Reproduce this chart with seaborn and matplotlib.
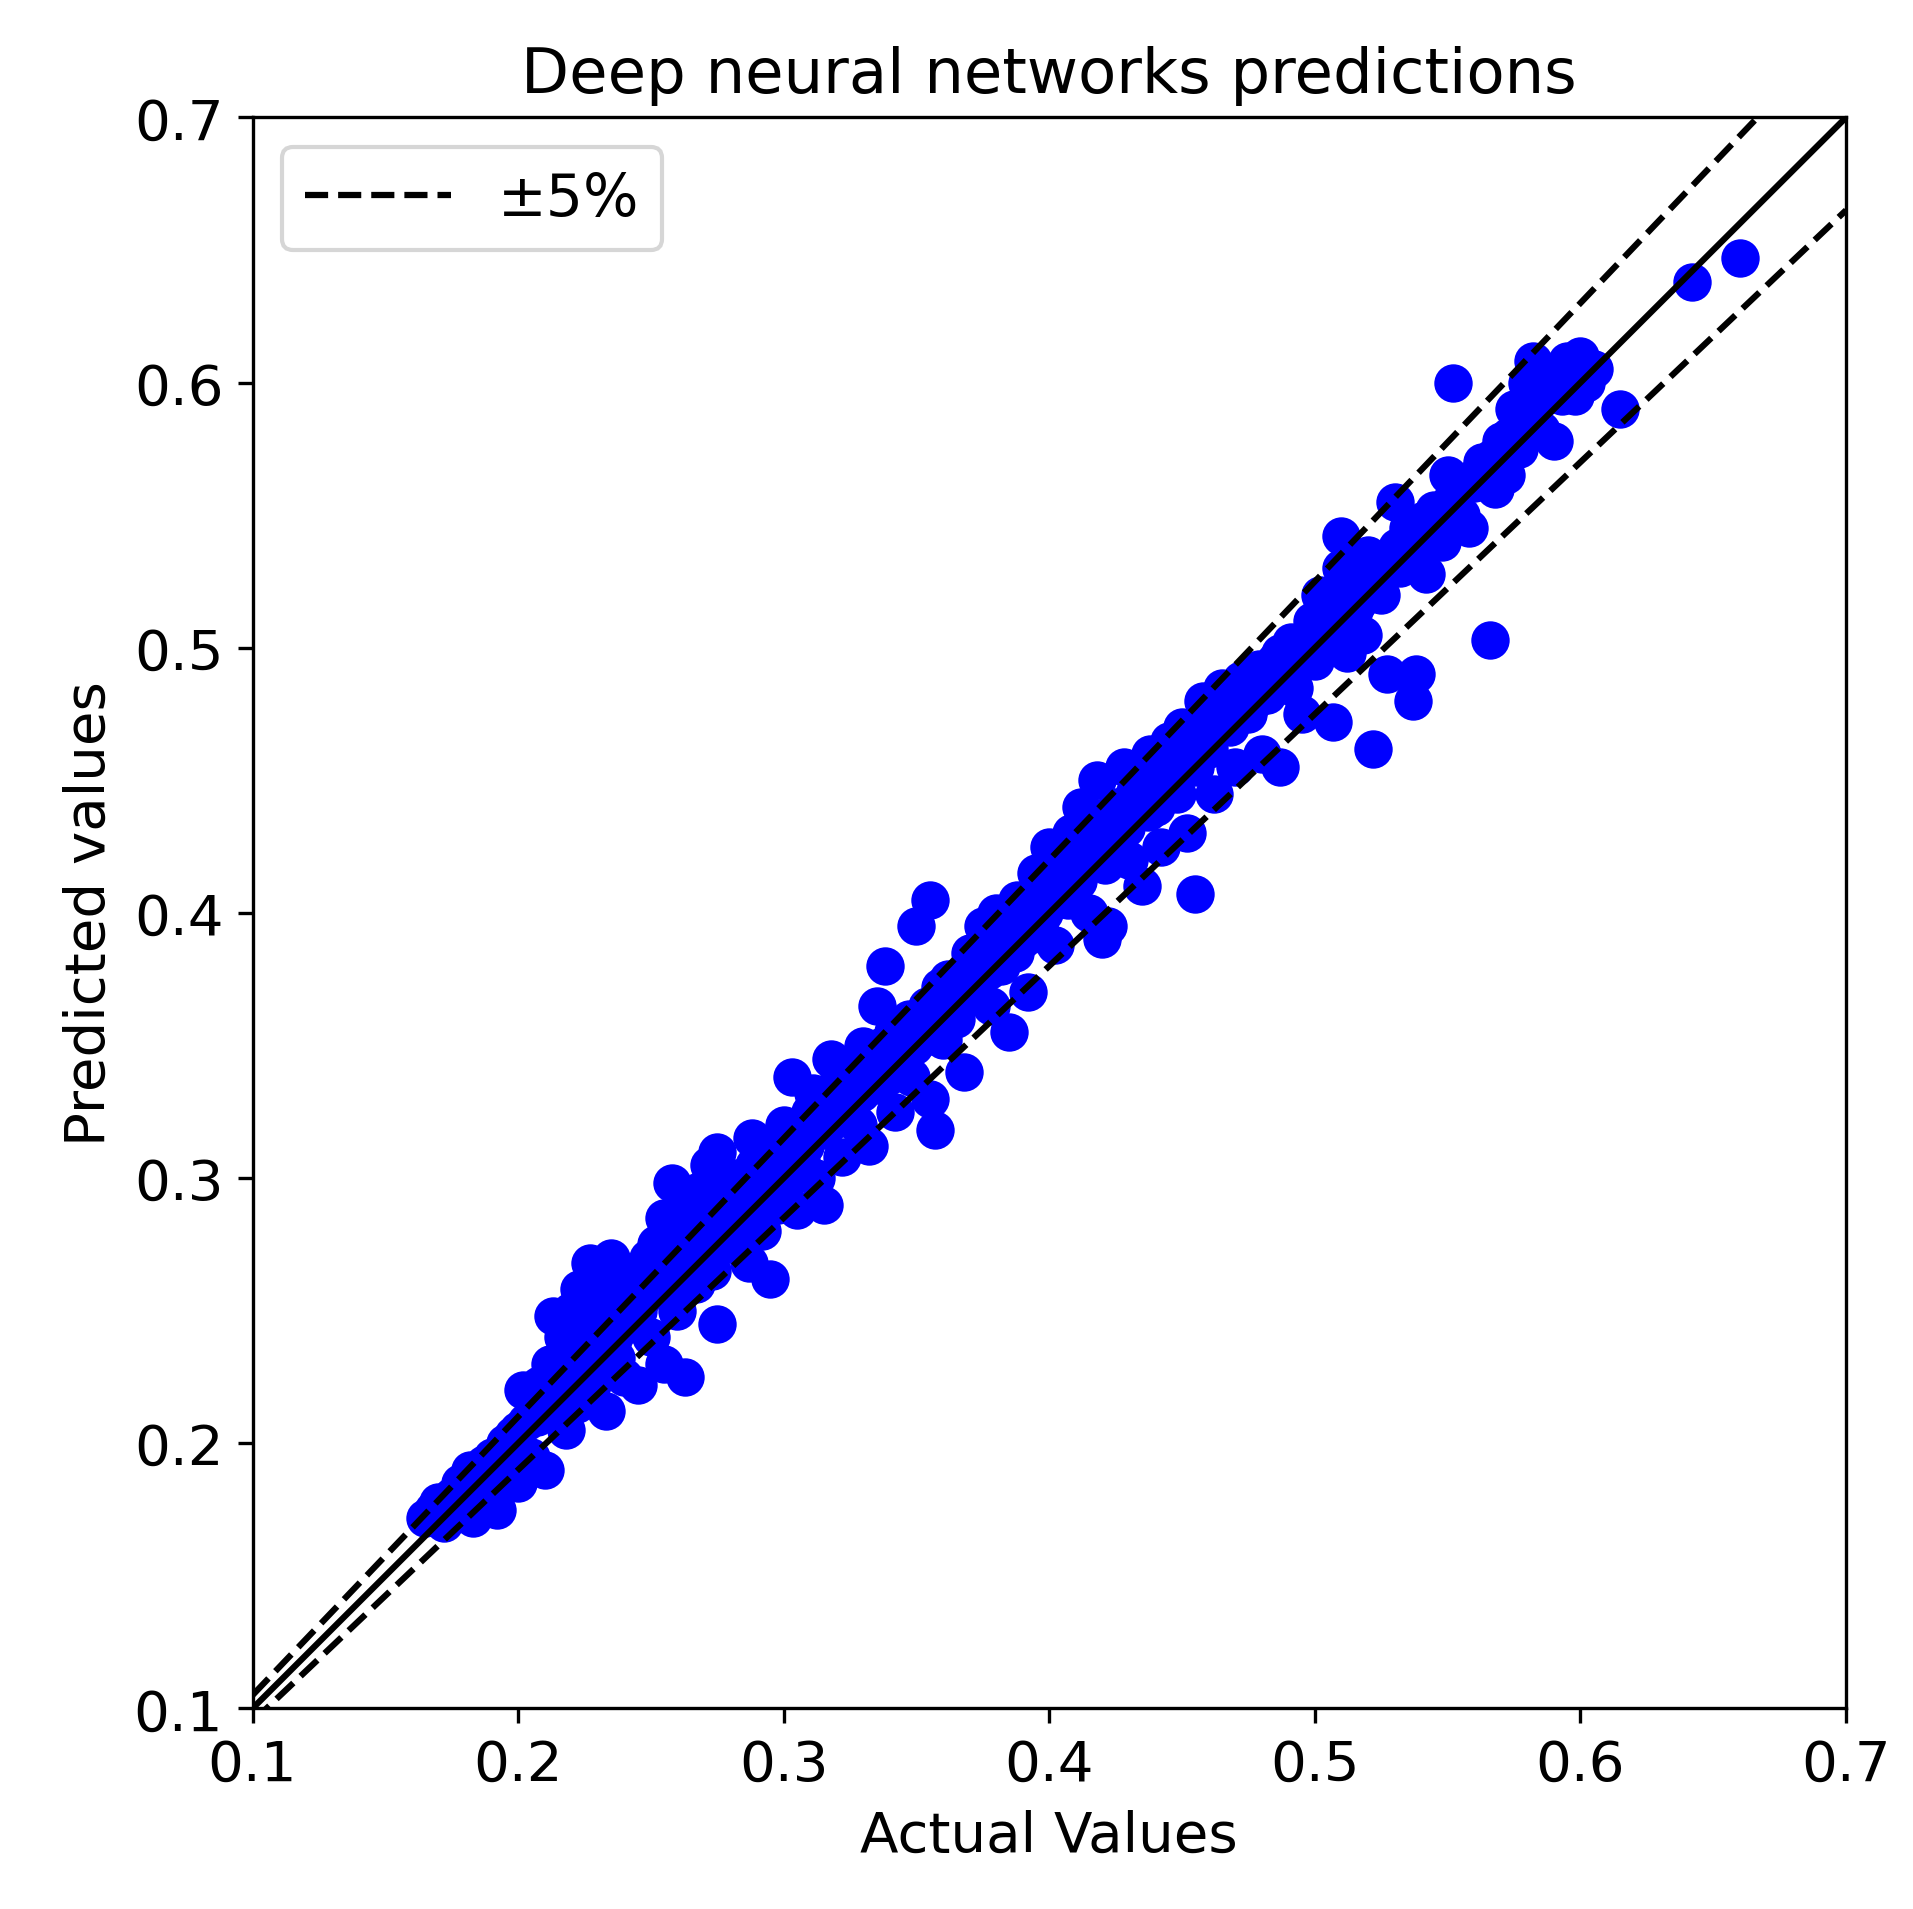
import numpy as np
import matplotlib
matplotlib.use('Agg')
import matplotlib.pyplot as plt
import seaborn as sns

pairs = [
(0.165,0.172),(0.168,0.175),(0.172,0.170),(0.175,0.180),(0.178,0.185),(0.180,0.176),(0.183,0.172),
(0.185,0.188),(0.188,0.180),(0.190,0.195),(0.192,0.175),(0.195,0.200),(0.197,0.190),(0.200,0.205),
(0.200,0.185),(0.202,0.220),(0.205,0.195),(0.207,0.210),(0.210,0.215),(0.210,0.190),(0.212,0.230),
(0.213,0.248),(0.215,0.225),(0.217,0.240),(0.218,0.205),(0.220,0.250),(0.220,0.235),(0.222,0.215),
(0.223,0.258),(0.225,0.245),(0.225,0.228),(0.227,0.268),(0.228,0.222),(0.230,0.255),(0.230,0.238),
(0.232,0.262),(0.233,0.212),(0.235,0.270),(0.235,0.248),(0.237,0.232),(0.238,0.255),(0.240,0.262),
(0.240,0.225),(0.242,0.245),(0.245,0.250),(0.245,0.222),(0.248,0.265),(0.250,0.240),(0.252,0.275),
(0.253,0.258),(0.255,0.285),(0.255,0.230),(0.258,0.298),(0.260,0.268),(0.260,0.250),(0.262,0.290),
(0.263,0.225),(0.265,0.275),(0.267,0.260),(0.268,0.295),(0.270,0.280),(0.272,0.305),(0.273,0.265),
(0.275,0.310),(0.275,0.245),(0.278,0.290),(0.280,0.275),(0.282,0.300),(0.285,0.285),(0.287,0.268),
(0.288,0.315),(0.290,0.295),(0.292,0.280),(0.295,0.305),(0.295,0.262),(0.298,0.290),(0.300,0.320),
(0.302,0.300),(0.303,0.338),(0.305,0.288),(0.308,0.312),(0.310,0.325),(0.312,0.300),(0.315,0.318),
(0.315,0.290),(0.318,0.345),(0.320,0.330),(0.322,0.308),(0.325,0.338),(0.328,0.320),(0.330,0.350),
(0.332,0.312),(0.335,0.365),(0.335,0.335),(0.338,0.380),(0.340,0.345),(0.342,0.325),(0.345,0.355),
(0.348,0.338),(0.350,0.395),(0.352,0.360),(0.355,0.405),(0.355,0.330),(0.357,0.318),(0.358,0.368),
(0.360,0.352),(0.362,0.375),(0.365,0.360),(0.368,0.340),(0.370,0.385),(0.372,0.370),(0.375,0.395),
(0.378,0.365),(0.380,0.400),(0.382,0.380),(0.385,0.355),(0.388,0.405),(0.390,0.390),(0.392,0.370),
(0.395,0.415),(0.398,0.400),(0.400,0.425),(0.402,0.388),(0.405,0.410),(0.408,0.430),(0.410,0.415),
(0.412,0.440),(0.415,0.400),(0.418,0.450),(0.420,0.425),(0.420,0.390),(0.422,0.395),(0.425,0.440),
(0.428,0.455),(0.430,0.420),(0.432,0.445),(0.435,0.410),(0.438,0.460),(0.440,0.440),(0.442,0.425),
(0.445,0.465),(0.448,0.445),(0.450,0.470),(0.452,0.430),(0.455,0.407),(0.455,0.455),(0.458,0.480),
(0.460,0.462),(0.462,0.445),(0.465,0.485),(0.468,0.470),(0.470,0.455),(0.472,0.488),(0.475,0.475),
(0.478,0.490),(0.480,0.460),(0.482,0.482),(0.485,0.495),(0.487,0.455),(0.490,0.500),(0.492,0.485),
(0.495,0.475),(0.498,0.505),(0.500,0.495),(0.502,0.520),(0.505,0.510),(0.507,0.472),(0.510,0.530),
(0.510,0.542),(0.512,0.498),(0.515,0.515),(0.518,0.505),(0.520,0.535),(0.522,0.462),(0.525,0.520),
(0.527,0.490),(0.530,0.555),(0.532,0.530),(0.535,0.545),(0.537,0.480),(0.538,0.490),(0.540,0.535),
(0.542,0.528),(0.545,0.552),(0.548,0.540),(0.550,0.565),(0.552,0.600),(0.555,0.550),(0.558,0.545),
(0.560,0.562),(0.563,0.570),(0.566,0.503),(0.568,0.560),(0.570,0.578),(0.572,0.565),(0.575,0.590),
(0.577,0.575),(0.580,0.600),(0.582,0.608),(0.585,0.582),(0.587,0.595),(0.590,0.578),(0.592,0.602),
(0.595,0.608),(0.598,0.595),(0.600,0.610),(0.605,0.605),(0.615,0.590),(0.642,0.638),(0.660,0.647),
# dense core of the band
(0.170,0.178),(0.177,0.178),(0.182,0.190),(0.187,0.192),(0.193,0.188),(0.198,0.203),(0.203,0.208),
(0.208,0.222),(0.214,0.212),(0.216,0.232),(0.219,0.228),(0.221,0.242),(0.224,0.236),(0.226,0.252),
(0.229,0.245),(0.231,0.266),(0.234,0.258),(0.236,0.240),(0.239,0.250),(0.241,0.255),(0.244,0.260),
(0.247,0.255),(0.249,0.270),(0.251,0.262),(0.254,0.268),(0.257,0.278),(0.259,0.262),(0.261,0.280),
(0.264,0.272),(0.266,0.285),(0.269,0.272),(0.271,0.292),(0.274,0.282),(0.277,0.298),(0.279,0.288),
(0.281,0.292),(0.284,0.300),(0.286,0.292),(0.289,0.305),(0.291,0.300),(0.294,0.312),(0.297,0.302),
(0.299,0.310),(0.301,0.312),(0.304,0.318),(0.307,0.305),(0.309,0.318),(0.311,0.332),(0.314,0.325),
(0.317,0.330),(0.319,0.322),(0.321,0.338),(0.324,0.328),(0.327,0.340),(0.329,0.332),(0.331,0.342),
(0.334,0.340),(0.337,0.350),(0.339,0.338),(0.341,0.355),(0.344,0.345),(0.347,0.360),(0.349,0.350),
(0.351,0.352),(0.354,0.365),(0.356,0.355),(0.359,0.372),(0.361,0.362),(0.364,0.372),(0.367,0.368),
(0.369,0.378),(0.371,0.375),(0.374,0.382),(0.377,0.378),(0.379,0.390),(0.381,0.386),(0.384,0.392),
(0.387,0.385),(0.389,0.398),(0.391,0.395),(0.394,0.405),(0.397,0.392),(0.399,0.410),(0.401,0.405),
(0.404,0.418),(0.407,0.405),(0.409,0.420),(0.411,0.412),(0.414,0.425),(0.417,0.420),(0.419,0.432),
(0.421,0.418),(0.424,0.430),(0.427,0.440),(0.429,0.432),(0.431,0.438),(0.434,0.448),(0.437,0.438),
(0.439,0.452),(0.441,0.445),(0.444,0.455),(0.447,0.452),(0.449,0.460),(0.451,0.455),(0.454,0.468),
(0.457,0.462),(0.459,0.472),(0.461,0.468),(0.464,0.475),(0.467,0.480),(0.469,0.478),(0.471,0.482),
(0.474,0.485),(0.477,0.480),(0.479,0.492),(0.481,0.488),(0.484,0.490),(0.487,0.498),(0.489,0.490),
(0.491,0.502),(0.494,0.498),(0.497,0.500),(0.499,0.510),(0.503,0.505),(0.506,0.515),(0.509,0.512),
(0.513,0.522),(0.517,0.518),(0.521,0.525),(0.526,0.532),(0.531,0.538),(0.536,0.540),(0.541,0.548),
(0.546,0.548),(0.551,0.555),(0.556,0.562),(0.561,0.565),(0.567,0.572),(0.573,0.580),(0.578,0.585),
(0.583,0.592),(0.588,0.598),(0.593,0.595),(0.597,0.605),(0.602,0.600),
]
actual = [p[0] for p in pairs]
predicted = [p[1] for p in pairs]

sns.set_style('ticks')
plt.rcParams['font.family'] = ['DejaVu Sans']
plt.rcParams['text.color'] = 'black'
plt.rcParams['axes.labelcolor'] = 'black'
plt.rcParams['xtick.color'] = 'black'
plt.rcParams['ytick.color'] = 'black'
plt.rcParams['axes.edgecolor'] = 'black'
fig = plt.figure(figsize=(1913/300, 1910/300), dpi=300)
ax = fig.add_axes([0.132, 0.105, 0.833, 0.833])

sns.scatterplot(x=actual, y=predicted, ax=ax, color='blue', s=85, linewidth=0, zorder=2)

line = np.array([0.1, 0.7])
ax.plot(line, line, color='black', lw=1.5, zorder=3)
ax.plot(line, line * 1.05, color='black', ls='--', lw=1.5, label='±5%', zorder=3)
ax.plot(line, line * 0.95, color='black', ls='--', lw=1.5, zorder=3)

ax.set_xlim(0.1, 0.7)
ax.set_ylim(0.1, 0.7)
ax.set_xticks([0.1, 0.2, 0.3, 0.4, 0.5, 0.6, 0.7])
ax.set_yticks([0.1, 0.2, 0.3, 0.4, 0.5, 0.6, 0.7])
ax.tick_params(labelsize=13.5)
ax.set_xlabel('Actual Values', fontsize=13.5)
ax.set_ylabel('Predicted values', fontsize=13.5)
ax.set_title('Deep neural networks predictions', fontsize=15)
ax.legend(loc='upper left', fontsize=14, handlelength=2.5)

fig.savefig('out.png', dpi=300)
